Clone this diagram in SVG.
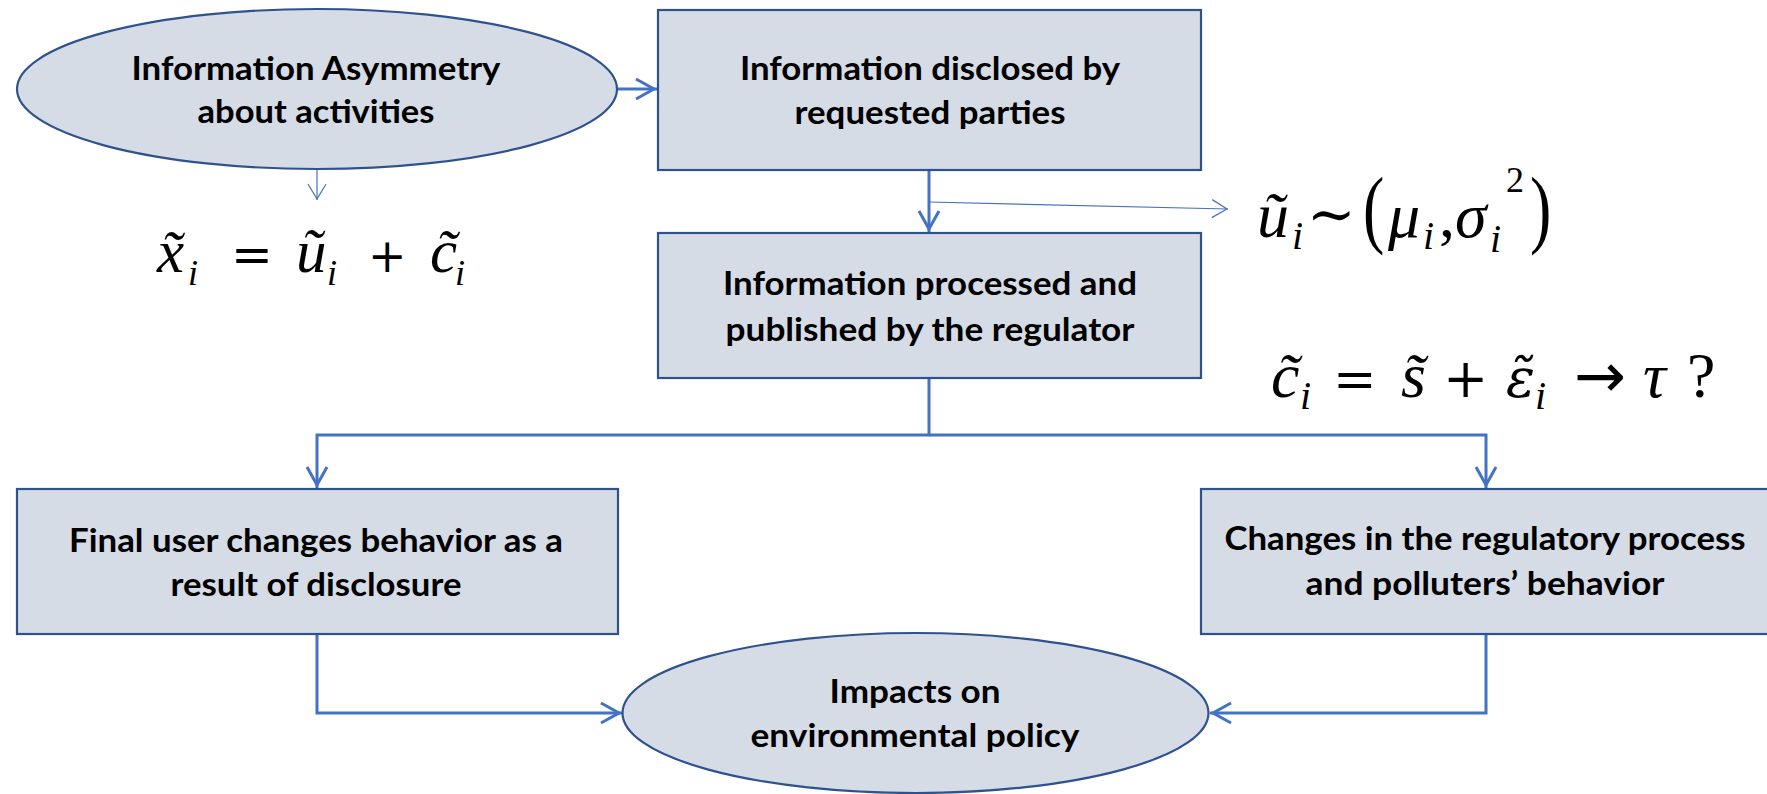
<svg xmlns="http://www.w3.org/2000/svg" width="1767" height="794" viewBox="0 0 1767 794">
<defs>
<style>
.shape{fill:#D6DCE5;stroke:#2F528F;stroke-width:2.2}
.lbl{font-family:Lato,"Liberation Sans",sans-serif;font-weight:700;font-size:33px;fill:#000;text-anchor:middle}
.conn{fill:none;stroke:#4472C4;stroke-width:3}
.thin{fill:none;stroke:#4472C4;stroke-width:1.2}
.math{font-family:"Liberation Serif","DejaVu Serif",serif;fill:#000}
.m1{font-size:61px}
.m2{font-size:64px}
.it{font-style:italic}
.op{font-family:"DejaVu Serif",serif;font-style:normal}
.s1{font-size:36px;font-style:italic}
.s2{font-size:40px;font-style:italic}
</style>
<marker id="ah" viewBox="-22 -12 24 24" refX="0" refY="0" markerWidth="24" markerHeight="24" markerUnits="userSpaceOnUse" orient="auto">
<path d="M-21,-10 L-3,0 L-21,10" fill="none" stroke="#4472C4" stroke-width="3"/>
</marker>
<marker id="ahThin" viewBox="-20 -12 22 24" refX="0" refY="0" markerWidth="22" markerHeight="24" markerUnits="userSpaceOnUse" orient="auto">
<path d="M-16,-9 L-1,0 L-16,9" fill="none" stroke="#4472C4" stroke-width="1.2"/>
</marker>
</defs>

<g id="connectors">
<path class="conn" d="M617,89 H657" marker-end="url(#ah)"/>
<path class="conn" d="M929,170 V232" marker-end="url(#ah)"/>
<path class="thin" d="M929,202 L1228,209" marker-end="url(#ahThin)"/>
<path class="thin" d="M317,169 V200" marker-end="url(#ahThin)"/>
<path class="conn" d="M929,378 V435 H317 V488" marker-end="url(#ah)"/>
<path class="conn" d="M929,435 H1486 V488" marker-end="url(#ah)"/>
<path class="conn" d="M317,634 V713 H622" marker-end="url(#ah)"/>
<path class="conn" d="M1486,634 V713 H1210" marker-end="url(#ah)"/>
</g>

<g id="node-asymmetry">
<ellipse class="shape" cx="317" cy="89" rx="300" ry="80"/>
<text class="lbl" x="316" y="80" textLength="369" lengthAdjust="spacingAndGlyphs">Information Asymmetry</text>
<text class="lbl" x="316" y="123" textLength="237" lengthAdjust="spacingAndGlyphs">about activities</text>
</g>

<g id="node-disclosed">
<rect class="shape" x="658" y="10" width="543" height="160"/>
<text class="lbl" x="930" y="80" textLength="380" lengthAdjust="spacingAndGlyphs">Information disclosed by</text>
<text class="lbl" x="930" y="124" textLength="271" lengthAdjust="spacingAndGlyphs">requested parties</text>
</g>

<g id="node-processed">
<rect class="shape" x="658" y="233" width="543" height="145"/>
<text class="lbl" x="930" y="295" textLength="414" lengthAdjust="spacingAndGlyphs">Information processed and</text>
<text class="lbl" x="930" y="341" textLength="409" lengthAdjust="spacingAndGlyphs">published by the regulator</text>
</g>

<g id="node-final-user">
<rect class="shape" x="17" y="489" width="601" height="145"/>
<text class="lbl" x="316" y="552" textLength="494" lengthAdjust="spacingAndGlyphs">Final user changes behavior as a</text>
<text class="lbl" x="316" y="596" textLength="291" lengthAdjust="spacingAndGlyphs">result of disclosure</text>
</g>

<g id="node-regulatory">
<rect class="shape" x="1201" y="489" width="570" height="145"/>
<text class="lbl" x="1485" y="550" textLength="521" lengthAdjust="spacingAndGlyphs">Changes in the regulatory process</text>
<text class="lbl" x="1485" y="595" textLength="359" lengthAdjust="spacingAndGlyphs">and polluters’ behavior</text>
</g>

<g id="node-impacts">
<ellipse class="shape" cx="915.5" cy="713" rx="293" ry="80"/>
<text class="lbl" x="915" y="703" textLength="171" lengthAdjust="spacingAndGlyphs">Impacts on</text>
<text class="lbl" x="915" y="747" textLength="329" lengthAdjust="spacingAndGlyphs">environmental policy</text>
</g>

<g id="formula-x">
<text class="math m1" y="272"><tspan class="it" x="157">x̃</tspan><tspan class="s1" x="188" y="285">i</tspan><tspan class="op" x="231" y="272" style="font-size:50px">=</tspan><tspan class="it" x="296" y="272">ũ</tspan><tspan class="s1" x="327" y="285">i</tspan><tspan class="op" x="368" y="272" style="font-size:46px">+</tspan><tspan class="it" x="430" y="272">c̃</tspan><tspan class="s1" x="455" y="285">i</tspan></text>
</g>

<g id="formula-u">
<text class="math m2" y="237"><tspan class="it" x="1257">ũ</tspan><tspan class="s2" x="1292" y="249">i</tspan><tspan class="op" x="1307" y="234" style="font-size:58px">∼</tspan><tspan class="it" x="1388" y="237">μ</tspan><tspan class="s2" x="1423" y="249">i</tspan><tspan x="1439" y="237">,</tspan><tspan class="it" x="1455" y="237">σ</tspan><tspan class="s2" x="1490" y="252">i</tspan><tspan x="1506" y="192" style="font-size:36px">2</tspan></text>
<text class="math m2" transform="translate(1363,237) scale(1,1.35)">(</text>
<text class="math m2" transform="translate(1530,237) scale(1,1.35)">)</text>
</g>

<g id="formula-c">
<text class="math m2" y="397"><tspan class="it" x="1271">c̃</tspan><tspan class="s2" x="1300" y="409">i</tspan><tspan class="op" x="1333" y="397" style="font-size:52px">=</tspan><tspan class="it" x="1401" y="397">s̃</tspan><tspan class="op" x="1443" y="397" style="font-size:54px">+</tspan><tspan class="it" x="1506" y="397" style="font-family:'DejaVu Serif',serif;font-size:54px">ε̃</tspan><tspan class="s2" x="1535" y="409">i</tspan><tspan x="1574" y="397" style="font-family:'Noto Sans','DejaVu Sans',sans-serif;font-style:normal;font-size:62px">→</tspan><tspan class="it" x="1643" y="397">τ</tspan><tspan x="1687" y="397">?</tspan></text>
</g>
</svg>
